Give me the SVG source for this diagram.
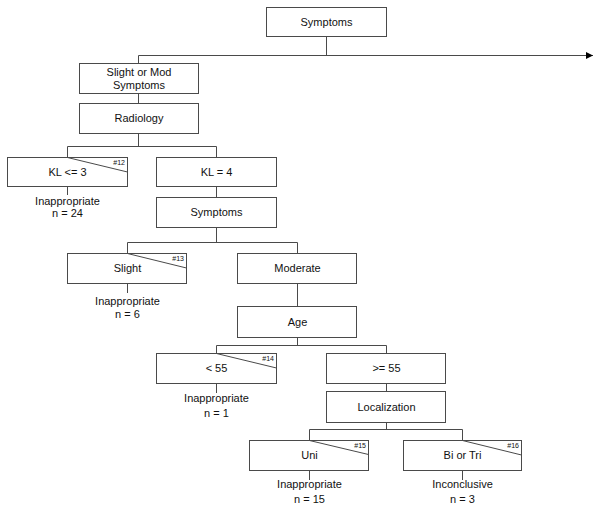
<svg xmlns="http://www.w3.org/2000/svg" width="601" height="509" viewBox="0 0 601 509">
<defs>
<marker id="arr" viewBox="0 0 10 10" refX="10" refY="5" markerWidth="9" markerHeight="7" markerUnits="userSpaceOnUse" orient="auto">
<path d="M0,0 L10,5 L0,10 z" fill="#000"/>
</marker>
</defs>
<style>
.b{fill:#fff;stroke:#4a4a4a;stroke-width:1}
line{stroke:#4a4a4a;stroke-width:1;fill:none}
text{font-family:"Liberation Sans",Arial,sans-serif;font-size:11px;fill:#111;text-anchor:middle}
.n{font-size:7px;text-anchor:end}
</style>
<rect width="601" height="509" style="fill:#fff;stroke:none"/>
<g id="connectors">
<line x1="326.5" y1="36" x2="326.5" y2="55.5"/>
<line x1="138.5" y1="55.5" x2="593" y2="55.5" marker-end="url(#arr)"/>
<line x1="138.5" y1="55.5" x2="138.5" y2="63"/>
<line x1="138.5" y1="93" x2="138.5" y2="103"/>
<line x1="138.5" y1="133" x2="138.5" y2="146.5"/>
<line x1="67.5" y1="146.5" x2="216.5" y2="146.5"/>
<line x1="67.5" y1="146.5" x2="67.5" y2="157"/>
<line x1="216.5" y1="146.5" x2="216.5" y2="157"/>
<line x1="67.5" y1="186" x2="67.5" y2="195"/>
<line x1="216.5" y1="186" x2="216.5" y2="197"/>
<line x1="216.5" y1="227" x2="216.5" y2="242.5"/>
<line x1="127.5" y1="242.5" x2="297.5" y2="242.5"/>
<line x1="127.5" y1="242.5" x2="127.5" y2="253"/>
<line x1="297.5" y1="242.5" x2="297.5" y2="253"/>
<line x1="127.5" y1="283" x2="127.5" y2="293"/>
<line x1="297.5" y1="283" x2="297.5" y2="306"/>
<line x1="297.5" y1="337" x2="297.5" y2="345.5"/>
<line x1="216.5" y1="345.5" x2="386.5" y2="345.5"/>
<line x1="216.5" y1="345.5" x2="216.5" y2="353"/>
<line x1="386.5" y1="345.5" x2="386.5" y2="353"/>
<line x1="216.5" y1="383" x2="216.5" y2="393"/>
<line x1="386.5" y1="383" x2="386.5" y2="391"/>
<line x1="386.5" y1="422" x2="386.5" y2="429.5"/>
<line x1="309.5" y1="429.5" x2="462.5" y2="429.5"/>
<line x1="309.5" y1="429.5" x2="309.5" y2="440"/>
<line x1="462.5" y1="429.5" x2="462.5" y2="440"/>
<line x1="309.5" y1="470" x2="309.5" y2="480"/>
<line x1="462.5" y1="470" x2="462.5" y2="480"/>
</g>
<g id="n-symptoms">
<rect class="b" x="266.5" y="7.5" width="120" height="29"/>
<text x="326.5" y="25.5">Symptoms</text>
</g>
<g id="n-slightmod">
<rect class="b" x="79.5" y="63.5" width="119" height="30"/>
<text x="139" y="75.5">Slight or Mod</text>
<text x="139" y="89">Symptoms</text>
</g>
<g id="n-radiology">
<rect class="b" x="79.5" y="103.5" width="119" height="30"/>
<text x="139" y="122">Radiology</text>
</g>
<g id="n-kl3">
<rect class="b" x="7.5" y="157.5" width="120" height="29"/>
<line x1="67.5" y1="157.5" x2="127.5" y2="172"/>
<text class="n" x="125" y="165">#12</text>
<text x="67.5" y="176">KL &lt;= 3</text>
<text x="67.5" y="204.5">Inappropriate</text>
<text x="67.5" y="217">n = 24</text>
</g>
<g id="n-kl4">
<rect class="b" x="156.5" y="157.5" width="120" height="29"/>
<text x="216.5" y="176">KL = 4</text>
</g>
<g id="n-symptoms2">
<rect class="b" x="156.5" y="197.5" width="120" height="30"/>
<text x="216.5" y="216">Symptoms</text>
</g>
<g id="n-slight">
<rect class="b" x="67.5" y="253.5" width="119" height="30"/>
<line x1="127.5" y1="253.5" x2="186.5" y2="268"/>
<text class="n" x="184" y="261">#13</text>
<text x="127.5" y="272">Slight</text>
<text x="127.5" y="304.5">Inappropriate</text>
<text x="127.5" y="317.5">n = 6</text>
</g>
<g id="n-moderate">
<rect class="b" x="237.5" y="253.5" width="119" height="30"/>
<text x="297.5" y="272">Moderate</text>
</g>
<g id="n-age">
<rect class="b" x="237.5" y="306.5" width="119" height="31"/>
<text x="297.5" y="325.5">Age</text>
</g>
<g id="n-lt55">
<rect class="b" x="156.5" y="353.5" width="120" height="30"/>
<line x1="216.5" y1="353.5" x2="276.5" y2="368"/>
<text class="n" x="274" y="361">#14</text>
<text x="216.5" y="372">&lt; 55</text>
<text x="216.5" y="402">Inappropriate</text>
<text x="216.5" y="416.5">n = 1</text>
</g>
<g id="n-ge55">
<rect class="b" x="326.5" y="353.5" width="119" height="30"/>
<text x="386.5" y="372">&gt;= 55</text>
</g>
<g id="n-localization">
<rect class="b" x="326.5" y="391.5" width="119" height="31"/>
<text x="386.5" y="410.5">Localization</text>
</g>
<g id="n-uni">
<rect class="b" x="249.5" y="440.5" width="119" height="30"/>
<line x1="309.5" y1="440.5" x2="368.5" y2="454.5"/>
<text class="n" x="366" y="448">#15</text>
<text x="309.5" y="459">Uni</text>
<text x="309.5" y="488">Inappropriate</text>
<text x="309.5" y="502.5">n = 15</text>
</g>
<g id="n-bitri">
<rect class="b" x="403.5" y="440.5" width="118" height="30"/>
<line x1="462.5" y1="440.5" x2="521.5" y2="455"/>
<text class="n" x="519" y="448">#16</text>
<text x="462.5" y="459">Bi or Tri</text>
<text x="462.5" y="488">Inconclusive</text>
<text x="462.5" y="502.5">n = 3</text>
</g>
</svg>
